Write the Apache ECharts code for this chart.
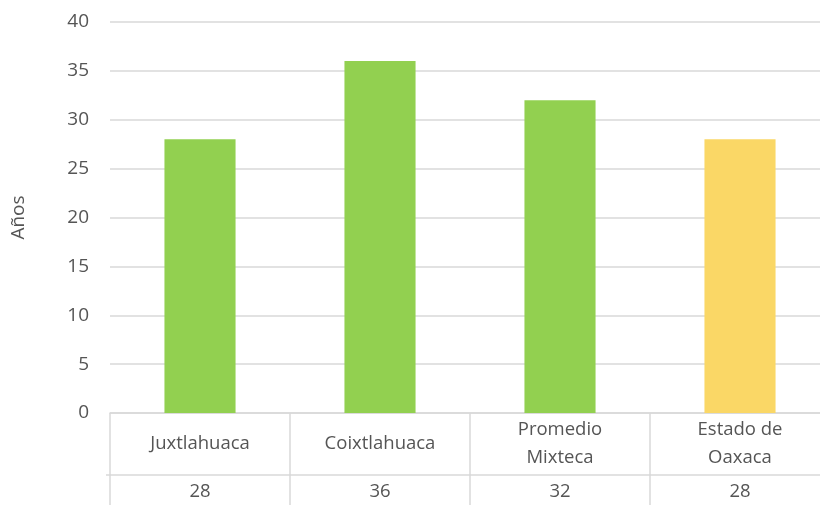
<!DOCTYPE html>
<html><head><meta charset="utf-8">
<script src="https://cdn.jsdelivr.net/npm/echarts@6/dist/echarts.min.js"></script>
<style>html,body{margin:0;padding:0;background:#fff}#c{width:820px;height:505px}</style>
</head><body><div id="c"></div>
<script>
const categories = ['Juxtlahuaca', 'Coixtlahuaca', 'Promedio\nMixteca', 'Estado de\nOaxaca'];
const values = [28, 36, 32, 28];
const barColors = ['#92D050', '#92D050', '#92D050', '#FAD766'];
const yTicks = [0, 5, 10, 15, 20, 25, 30, 35, 40];
const yTitle = 'Años';

const font = 'Open Sans';
const textColor = '#555555';
const lineColor = '#D9D9D9';
const chart = echarts.init(document.getElementById('c'), null, {renderer: 'canvas'});
chart.setOption({
  animation: false,
  grid: {left: 110, top: 22, width: 720, height: 391, containLabel: false, outerBoundsMode: 'none'},
  xAxis: [{
    type: 'category', data: categories, position: 'bottom',
    axisLine: {show: true, lineStyle: {color: lineColor, width: 1.5}},
    axisTick: {show: true, length: 92, alignWithLabel: false, lineStyle: {color: lineColor, width: 1.5}},
    axisLabel: {color: textColor, fontFamily: font, fontSize: 18.5, margin: 31, verticalAlign: 'middle', lineHeight: 28, interval: 0}
  }, {
    type: 'category', data: values.map(String), position: 'bottom', offset: 62,
    axisLine: {show: true, lineStyle: {color: lineColor, width: 1.5}},
    axisTick: {show: false},
    axisLabel: {color: textColor, fontFamily: font, fontSize: 18.5, margin: 17, verticalAlign: 'middle', interval: 0}
  }],
  yAxis: {
    type: 'value', min: yTicks[0], max: yTicks[yTicks.length - 1], interval: yTicks[1] - yTicks[0],
    name: yTitle, nameLocation: 'middle', nameGap: 82, nameRotate: 90,
    nameTextStyle: {color: textColor, fontFamily: font, fontSize: 19},
    axisLine: {show: false}, axisTick: {show: false},
    axisLabel: {color: textColor, fontFamily: font, fontSize: 19, margin: 21},
    splitLine: {lineStyle: {color: lineColor, width: 1.5}}
  },
  series: [{
    type: 'bar', xAxisIndex: 0, barWidth: '39.5%',
    data: values.map((v, i) => ({value: v, itemStyle: {color: barColors[i]}}))
  }],
  graphic: [{
    type: 'line', shape: {x1: 106, y1: 475, x2: 110, y2: 475},
    style: {stroke: lineColor, lineWidth: 1.5}
  }]
});
</script></body></html>
